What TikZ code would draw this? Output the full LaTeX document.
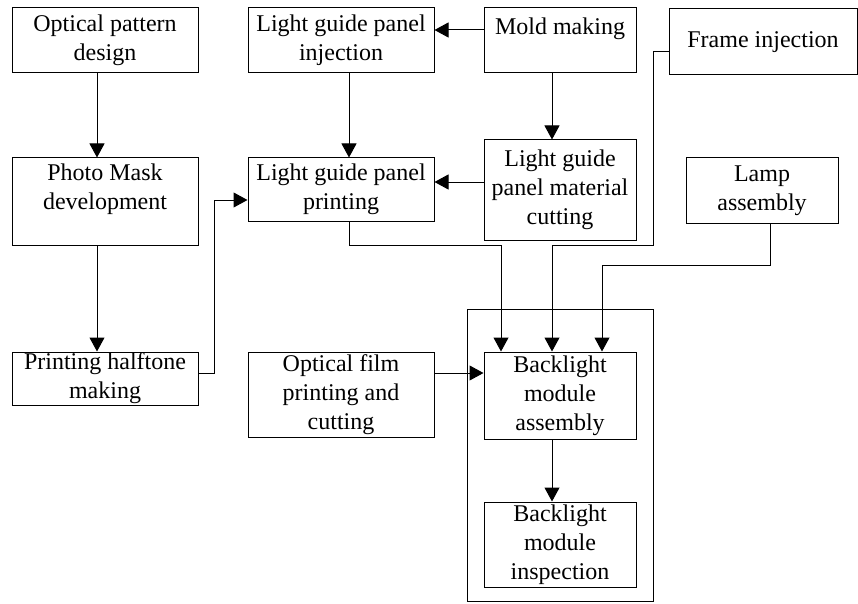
\documentclass[tikz,border=0pt]{standalone}
\usepackage{fontspec}
\setmainfont{Liberation Serif}
\usetikzlibrary{arrows.meta}
\tikzset{
  stepbox/.style={draw,line width=1pt,inner sep=0pt,align=center,
    font=\fontsize{24}{29}\selectfont},
  flow/.style={line width=1pt,-{Triangle[length=14pt,width=15pt]}}
}

\begin{document}
\begin{tikzpicture}[x=1pt,y=-1pt]
    \useasboundingbox (0,0) rectangle (858,604);
    % top row
    \node[stepbox,minimum width=186pt,minimum height=65pt] (opd) at (105,40.5) {Optical pattern\\design};
    \node[stepbox,minimum width=186pt,minimum height=65pt] (lgpi) at (341,40.5) {Light guide panel\\injection};
    \node[stepbox,minimum width=152pt,minimum height=65pt] (mold) at (560,40.5) {Mold making\\ \mbox{}};
    \node[stepbox,minimum width=188pt,minimum height=66pt] (frame) at (763,42) {Frame injection};
    % middle row
    \node[stepbox,minimum width=186pt,minimum height=87pt] (pmd) at (105,201.5) {Photo Mask\\development\\ \mbox{}};
    \node[stepbox,minimum width=186pt,minimum height=63pt] (lgpp) at (341,189.5) {Light guide panel\\printing};
    \node[stepbox,minimum width=152pt,minimum height=100pt] (cut) at (560,190) {Light guide\\panel material\\cutting};
    \node[stepbox,minimum width=152pt,minimum height=65pt] (lamp) at (762,190.5) {Lamp\\assembly};
    % bottom row
    \node[stepbox,minimum width=186pt,minimum height=53pt] (half) at (105,378.5) {Printing halftone\\making};
    \node[stepbox,minimum width=186pt,minimum height=85pt] (film) at (341,394.5) {Optical film\\printing and\\cutting};
    \node[draw,line width=1pt,minimum width=186pt,minimum height=292pt] (unit) at (560,455) {};
    \node[stepbox,minimum width=152pt,minimum height=87pt] (bla) at (560,395.5) {Backlight\\module\\assembly};
    \node[stepbox,minimum width=152pt,minimum height=85pt] (bli) at (560,544.5) {Backlight\\module\\inspection};

    % connectors
    \draw[flow] ([xshift=-8pt]opd.south) -- ([xshift=-8pt]pmd.north);
    \draw[flow] ([xshift=-8pt]pmd.south) -- ([xshift=-8pt]half.north);
    \draw[flow] ([xshift=8pt]lgpi.south) -- ([xshift=8pt]lgpp.north);
    \draw[flow] (mold.west |- 0,30) -- (lgpi.east |- 0,30);
    \draw[flow] ([xshift=-8pt]mold.south) -- ([xshift=-8pt]cut.north);
    \draw[flow] (cut.west |- 0,182) -- (lgpp.east |- 0,182);
    \draw[flow] (half.east |- 0,373) -| (214,200) -- (lgpp.west |- 0,200);
    \draw[flow] ([xshift=8pt]lgpp.south) |- (501,245) -- (bla.north -| 501,0);
    \draw[flow] (frame.west |- 0,52) -| (653,245) -| (bla.north -| 552,0);
    \draw[flow] ([xshift=8pt]lamp.south) |- (602,265) -- (bla.north -| 602,0);
    \draw[flow] (film.east |- 0,373) -- (bla.west |- 0,373);
    \draw[flow] ([xshift=-8pt]bla.south) -- ([xshift=-8pt]bli.north);
\end{tikzpicture}
\end{document}
